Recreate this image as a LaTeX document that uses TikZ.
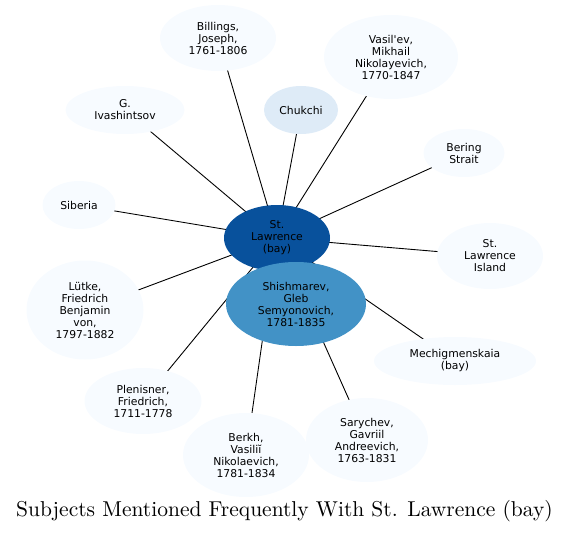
\documentclass[tikz,border=0pt]{standalone}
\usepackage{fontspec}
\newfontfamily\nodefont{DejaVu Sans}
\newfontfamily\titlefont{lmroman10-regular}[Extension=.otf]
\usetikzlibrary{shapes.geometric}
\definecolor{c0}{HTML}{F7FBFF}
\definecolor{c1}{HTML}{DEEBF7}
\definecolor{c2}{HTML}{4292C6}
\definecolor{c3}{HTML}{08519C}
\pgfdeclarelayer{bg}
\pgfsetlayers{bg,main}
\tikzset{
  ell/.style n args={2}{ellipse, draw=none, fill=c0, inner sep=0pt,
    minimum width=#1pt, minimum height=#2pt, align=center,
    font=\nodefont\fontsize{10.8}{12}\selectfont, text=black},
  edge/.style={draw=black, line width=0.9pt}
}
\begin{document}
\begin{tikzpicture}[x=1pt,y=-1pt]
\useasboundingbox (0,0) rectangle (569,532);
\node[ell={106}{66}, fill=c3] (c) at (277,238) {St.\\Lawrence\\(bay)};
\node[ell={140}{84}, fill=c2] (shish) at (296,304) {Shishmarev,\\Gleb\\Semyonovich,\\1781-1835};
\node[ell={116}{66}] (billings) at (218,38) {Billings,\\Joseph,\\1761-1806};
\node[ell={134}{84}] (vasilev) at (391,57) {Vasil'ev,\\Mikhail\\Nikolayevich,\\1770-1847};
\node[ell={74}{48}, fill=c1] (chukchi) at (301,110) {Chukchi};
\node[ell={119}{48}] (ivash) at (125,110) {G.\\Ivashintsov};
\node[ell={81}{48}] (bering) at (464,153) {Bering\\Strait};
\node[ell={73}{48}] (siberia) at (79,205) {Siberia};
\node[ell={106}{66}] (island) at (490,256) {St.\\Lawrence\\Island};
\node[ell={117}{99}] (lutke) at (85,310) {Lütke,\\Friedrich\\Benjamin\\von,\\1797-1882};
\node[ell={162}{48}] (mechig) at (455,361) {Mechigmenskaia\\(bay)};
\node[ell={117}{66}] (plen) at (143,401) {Plenisner,\\Friedrich,\\1711-1778};
\node[ell={122}{84}] (sary) at (367,440) {Sarychev,\\Gavriil\\Andreevich,\\1763-1831};
\node[ell={126}{84}] (berkh) at (246,455) {Berkh,\\Vasiliĭ\\Nikolaevich,\\1781-1834};
\begin{pgfonlayer}{bg}
\foreach \n in {shish,billings,vasilev,chukchi,ivash,bering,siberia,island,lutke,mechig,plen,sary,berkh}
  \draw[edge] (c.center) -- (\n.center);
\end{pgfonlayer}
\node[font=\titlefont\fontsize{21.5}{24}\selectfont, inner sep=0pt, anchor=base] (title) at (284.5,516.5) {Subjects Mentioned Frequently With St. Lawrence (bay)};
\end{tikzpicture}
\end{document}
